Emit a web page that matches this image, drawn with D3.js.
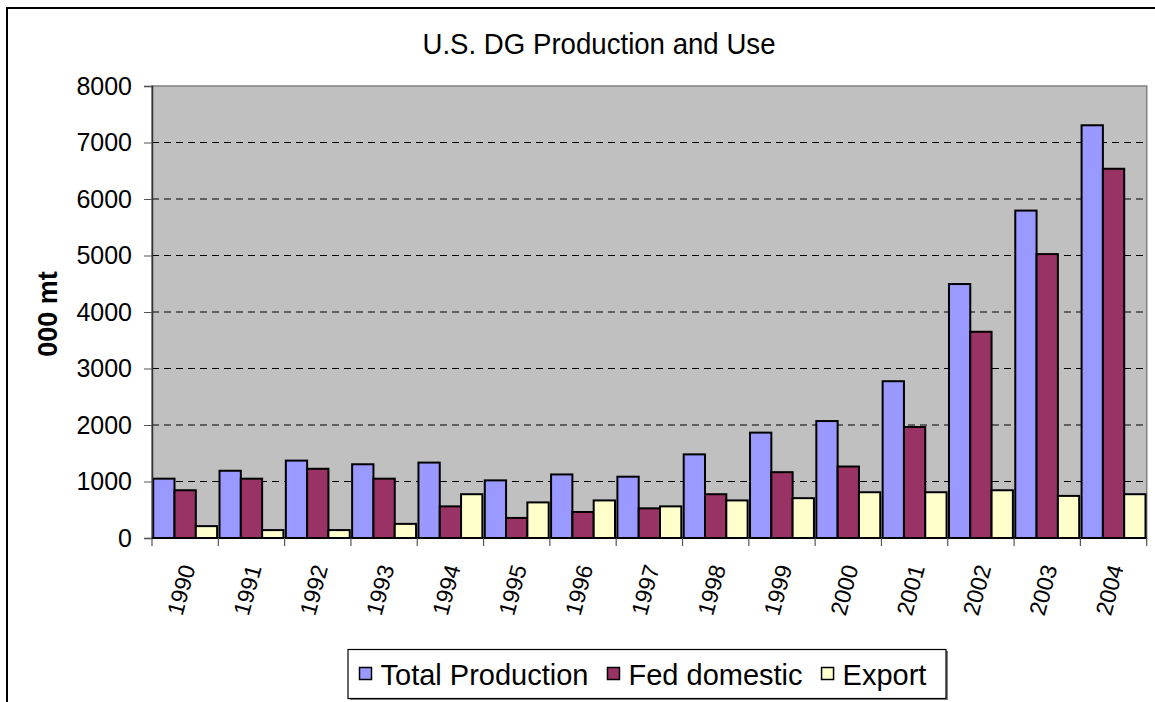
<!DOCTYPE html>
<meta charset="utf-8">
<style>
body { margin: 0; background: #fff; }
svg { display: block; font-family: "Liberation Sans", Arial, sans-serif; }
.grid line { stroke: #000; stroke-dasharray: 7,5; stroke-width: 1; }
.bars rect { stroke: #000; stroke-width: 2px; }
</style>
<svg width="1155" height="702"></svg>
<script src="https://d3js.org/d3.v7.min.js"></script>
<script>

// data (000 mt)
var years = ["1990","1991","1992","1993","1994","1995","1996","1997","1998","1999","2000","2001","2002","2003","2004"];
var totalProduction = [1050, 1190, 1370, 1305, 1335, 1020, 1125, 1085, 1480, 1865, 2070, 2775, 4495, 5795, 7305];
var fedDomestic     = [845, 1050, 1225, 1050, 560, 355, 460, 525, 775, 1165, 1265, 1965, 3650, 5025, 6535];
var exportVals      = [210, 140, 140, 250, 775, 630, 665, 560, 665, 705, 810, 810, 845, 745, 775];
var seriesNames = ["Total Production", "Fed domestic", "Export"];
var seriesColors = ["#9999FF", "#993366", "#FFFFCC"];
var yTicks = [0, 1000, 2000, 3000, 4000, 5000, 6000, 7000, 8000];

var svg = d3.select("svg");

var plotLeft = 152, plotRight = 1146.7, plotTop = 86, plotBottom = 538;

var x = d3.scaleBand().domain(years).range([plotLeft, plotRight]);
var x1 = d3.scaleBand().domain(seriesNames).range([1.2, x.bandwidth() - 1.2]);
var y = d3.scaleLinear().domain([0, 8000]).range([plotBottom, plotTop]);
var color = d3.scaleOrdinal().domain(seriesNames).range(seriesColors);

var rows = years.map(function(yr, i) {
  return {year: yr, values: [totalProduction[i], fedDomestic[i], exportVals[i]].map(function(v, j) {
    return {name: seriesNames[j], value: v};
  })};
});

// outer chart frame
svg.append("rect")
    .attr("x", 7).attr("y", 8)
    .attr("width", 1200).attr("height", 760)
    .attr("fill", "none").attr("stroke", "#000").attr("stroke-width", 2);

// plot area
svg.append("rect")
    .attr("x", plotLeft).attr("y", plotTop)
    .attr("width", plotRight - plotLeft).attr("height", plotBottom - plotTop)
    .attr("fill", "#C0C0C0").attr("stroke", "#808080").attr("stroke-width", 1.5);

// gridlines
svg.append("g").attr("class", "grid")
  .selectAll("line")
  .data(yTicks.filter(function(d) { return d > 0 && d < 8000; }))
  .enter().append("line")
    .attr("x1", plotLeft).attr("x2", plotRight)
    .attr("y1", function(d) { return y(d); })
    .attr("y2", function(d) { return y(d); });

// bars
svg.append("g").attr("class", "bars")
  .selectAll("g")
  .data(rows)
  .enter().append("g")
    .attr("transform", function(d) { return "translate(" + x(d.year) + ",0)"; })
  .selectAll("rect")
  .data(function(d) { return d.values; })
  .enter().append("rect")
    .attr("x", function(d) { return x1(d.name); })
    .attr("width", x1.bandwidth())
    .attr("y", function(d) { return y(d.value); })
    .attr("height", function(d) { return y(0) - y(d.value); })
    .attr("fill", function(d) { return color(d.name); });

// y axis
var yAxis = svg.append("g")
    .attr("transform", "translate(" + plotLeft + ",0)")
    .call(d3.axisLeft(y).tickValues(yTicks).tickSize(8).tickPadding(12).tickFormat(d3.format("d")));
yAxis.select(".domain").attr("stroke", "#333").attr("stroke-width", 1.5);
yAxis.selectAll(".tick line").attr("stroke", "#555");
yAxis.selectAll("text")
    .attr("font-size", 25).attr("fill", "#000")
    .style("font-family", "'Liberation Sans', Arial, sans-serif");

// x axis: ticks at category boundaries
var xAxis = svg.append("g").attr("transform", "translate(0," + plotBottom + ")");
xAxis.append("line")
    .attr("x1", plotLeft).attr("x2", plotRight)
    .attr("stroke", "#000").attr("stroke-width", 2);
xAxis.selectAll(".xt")
  .data(years.concat(["end"]))
  .enter().append("line")
    .attr("x1", function(d, i) { return plotLeft + i * x.step(); })
    .attr("x2", function(d, i) { return plotLeft + i * x.step(); })
    .attr("y1", 0).attr("y2", 8)
    .attr("stroke", "#555").attr("stroke-width", 1.2);
xAxis.selectAll("text")
  .data(years)
  .enter().append("text")
    .attr("transform", function(d) {
      return "translate(" + (x(d) + x.bandwidth() / 2 - 4) + ",52) rotate(-75)";
    })
    .attr("text-anchor", "middle")
    .attr("dominant-baseline", "central")
    .attr("font-size", 23)
    .text(function(d) { return d; });

// y axis title
svg.append("text")
    .attr("transform", "translate(48,314) rotate(-90)")
    .attr("text-anchor", "middle")
    .attr("dominant-baseline", "central")
    .attr("font-size", 27)
    .attr("font-weight", "bold")
    .text("000 mt");

// title
svg.append("text")
    .attr("x", 599).attr("y", 54)
    .attr("text-anchor", "middle")
    .attr("font-size", 29)
    .attr("textLength", 353)
    .attr("lengthAdjust", "spacingAndGlyphs")
    .text("U.S. DG Production and Use");

// legend
var lg = svg.append("g");
lg.append("rect")
    .attr("x", 350).attr("y", 651).attr("width", 598).attr("height", 49)
    .attr("fill", "#808080");
lg.append("rect")
    .attr("x", 348).attr("y", 649.5).attr("width", 598).attr("height", 49)
    .attr("fill", "#fff").attr("stroke", "#000").attr("stroke-width", 1.2);

var lx = 359.5;
seriesNames.forEach(function(name) {
  lg.append("rect")
      .attr("x", lx).attr("y", 667.5).attr("width", 12).attr("height", 12)
      .attr("fill", color(name)).attr("stroke", "#000").attr("stroke-width", 1.5);
  var t = lg.append("text")
      .attr("x", lx + 21).attr("y", 685)
      .attr("font-size", 29)
      .text(name);
  lx += 21 + t.node().getComputedTextLength() + 19;
});

</script>
